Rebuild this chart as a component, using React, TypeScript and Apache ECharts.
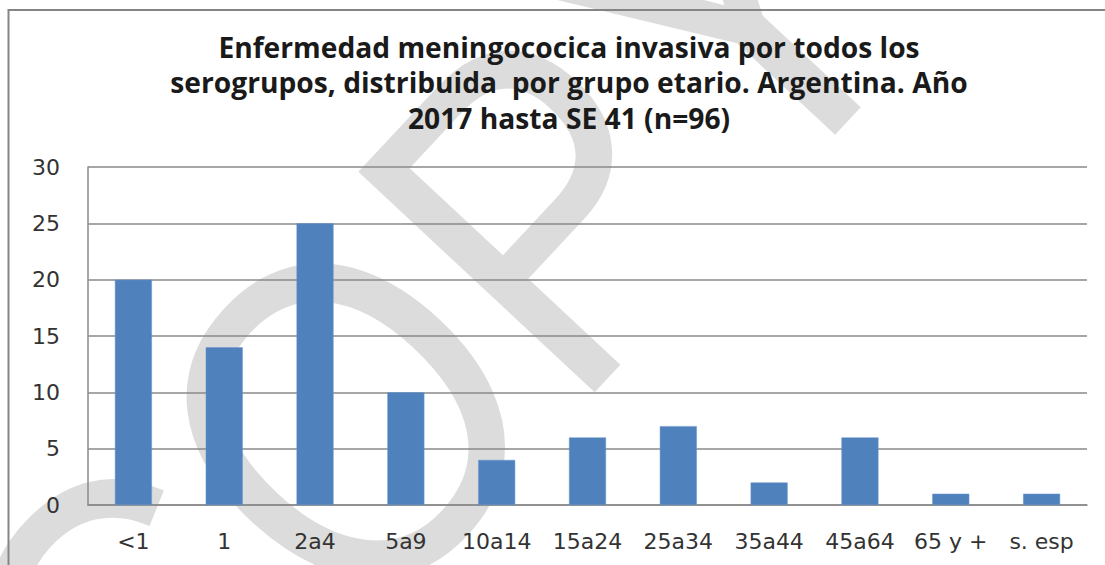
import React, { useEffect, useRef } from "react";
import * as echarts from "echarts";

const categories = ["<1", "1", "2a4", "5a9", "10a14", "15a24", "25a34", "35a44", "45a64", "65 y +", "s. esp"];
const cases = [20, 14, 25, 10, 4, 6, 7, 2, 6, 1, 1];
const titleLines = [
  "Enfermedad meningococica invasiva por todos los",
  "serogrupos, distribuida  por grupo etario. Argentina. Año",
  "2017 hasta SE 41 (n=96)",
];
const yMin = 0;
const yMax = 30;
const yStep = 5;
const watermarkText = "COPY";

export default function App() {
  const ref = useRef<HTMLDivElement>(null);
  useEffect(() => {
    if (!ref.current) return;
    const chart = echarts.init(ref.current, undefined, { renderer: "svg" });
    chart.setOption({
      animation: false,
      backgroundColor: "#ffffff",
      title: {
        text: titleLines.join("\n"),
        left: 564,
        top: 24,
        textAlign: "center",
        textStyle: {
          fontFamily: "Open Sans",
          fontWeight: "bold",
          fontSize: 28.2,
          lineHeight: 35.5,
          color: "#1a1a1a",
        },
      },
      graphic: [
        {
          type: "text",
          x: 430,
          y: 330,
          rotation: 0.82,
          scaleX: 0.86,
          z: -10,
          silent: true,
          style: {
            text: watermarkText,
            fontSize: 470,
            fontFamily: "Liberation Sans",
            fill: "#dcdcdc",
            textAlign: "center",
            textVerticalAlign: "middle",
            align: "center",
            verticalAlign: "middle",
          },
        },
        {
          type: "rect",
          z: 10,
          silent: true,
          shape: { x: 8.5, y: 10, width: 1200, height: 700 },
          style: { fill: "none", stroke: "#858585", lineWidth: 2 },
        },
      ],
      grid: { left: 88, right: 18, top: 167, bottom: 60 },
      xAxis: {
        type: "category",
        data: categories,
        axisLine: { show: true, lineStyle: { color: "#8a8a8a", width: 1.5 } },
        axisTick: { show: false },
        axisLabel: {
          margin: 25,
          fontFamily: "DejaVu Sans",
          fontSize: 22,
          color: "#333333",
          interval: 0,
        },
      },
      yAxis: {
        type: "value",
        min: yMin,
        max: yMax,
        interval: yStep,
        axisLine: { show: true, lineStyle: { color: "#8a8a8a", width: 1.5 } },
        axisTick: { show: false },
        splitLine: { show: true, lineStyle: { color: "#8a8a8a", width: 1.5 } },
        axisLabel: {
          margin: 28,
          fontFamily: "DejaVu Sans",
          fontSize: 22,
          color: "#333333",
        },
      },
      series: [
        {
          type: "bar",
          data: cases,
          barWidth: 37,
          itemStyle: { color: "#4f81bd", borderColor: "#6a97cf", borderWidth: 0.5 },
        },
      ],
    });
    return () => chart.dispose();
  }, []);
  return (
    <div
      ref={ref}
      style={{ position: "fixed", left: 0, top: 0, width: 1105, height: 565, background: "#fff" }}
    />
  );
}
